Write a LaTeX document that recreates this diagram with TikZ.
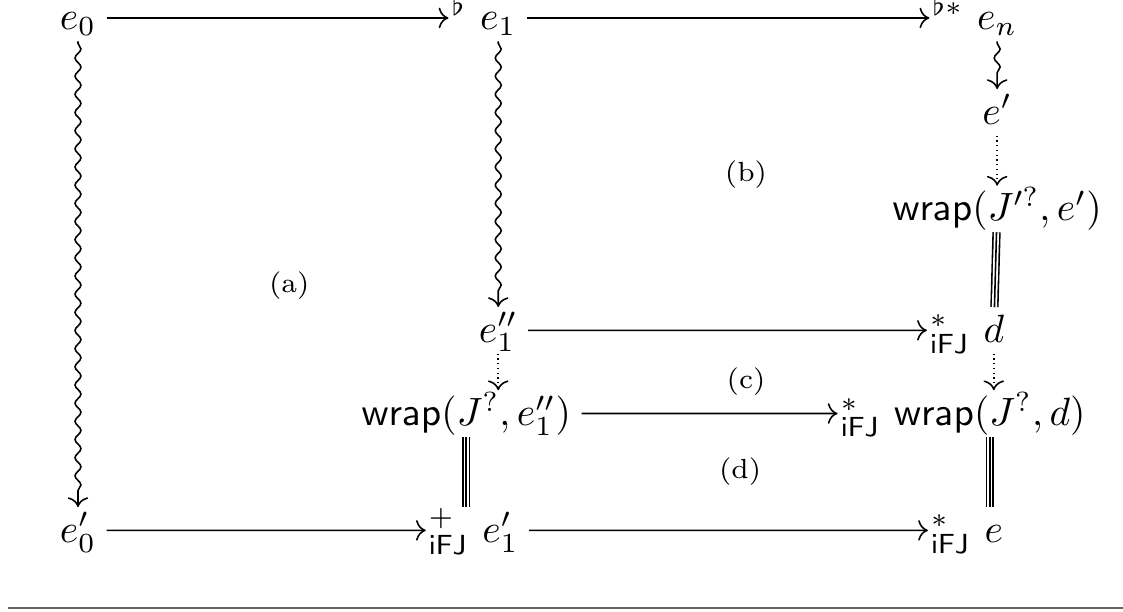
\documentclass[tikz,border=0pt]{standalone}
\usepackage{amsmath,amssymb}
\usepackage{xcolor}
\usepackage{tikz}
\usetikzlibrary{positioning,arrows.meta,calc,decorations.pathmorphing}
\definecolor{rulegray}{RGB}{100,100,100}
\tikzset{
  obj/.style={inner xsep=2.5pt,inner ysep=0.3pt,text height=8.4pt,text depth=2.4pt},
  tiplbl/.style={inner xsep=0.6pt,inner ysep=0.3pt,text height=6pt,text depth=0pt},
  flow/.style={-{Computer Modern Rightarrow},line width=0.4pt},
  squig/.style={flow,decorate,decoration={snake,amplitude=0.75pt,segment length=4.6pt,pre length=0.5pt,post length=2.2pt}},
  dotflow/.style={flow,dash pattern=on 0.3pt off 0.9pt},
  triple/.style={line width=0.4pt,preaction={draw,double,double distance=1.3pt}},
  region/.style={font=\scriptsize},
}

\begin{document}
\begin{tikzpicture}[node distance=5mm]
  \useasboundingbox (-6.94mm,1.6mm) rectangle (93.0mm,-52.8mm);
  \node[obj] (e0) at (0,0) {$e_0$};
  \node[obj,right=37.4mm of e0.center,anchor=center] (e1) {$e_1$};
  \node[obj,right=44.4mm of e1.center,anchor=center] (en) {$e_n$};
  \node[obj,below=8.4mm of en.center,anchor=center] (ep) {$e'$};
  \node[obj,below=8.6mm of ep.center,anchor=center] (wp) {$\mathsf{wrap}(J'^{?},e')$};
  \node[obj,below=10.8mm of wp.center,anchor=center,xshift=-0.3mm] (d) {$d$};
  \node[obj,below=27.8mm of e1.center,anchor=center] (e1pp) {$e_1''$};
  \node[obj,below=7.4mm of e1pp.center,anchor=center,xshift=-2.85mm] (w1) {$\mathsf{wrap}(J^{?},e_1'')$};
  \node[obj,below=17.8mm of e1pp.center,anchor=center,xshift=0.2mm] (e1p) {$e_1'$};
  \node[obj,below=45.6mm of e0.center,anchor=center] (e0p) {$e_0'$};
  \node[obj,below=7.4mm of d.center,anchor=center,xshift=-0.35mm] (wd) {$\mathsf{wrap}(J^{?},d)$};
  \node[obj,below=17.8mm of d.center,anchor=center] (e) {$e$};
  % labels at the arrow tips
  \node[tiplbl,left=0pt of e1] (t1) {${}^{\flat}$};
  \node[tiplbl,left=0pt of en] (t2) {${}^{\flat *}$};
  \node[tiplbl,left=0pt of d] (t3) {${}^{*}_{\mathsf{iFJ}}$};
  \node[tiplbl,left=0pt of wd] (t4) {${}^{*}_{\mathsf{iFJ}}$};
  \node[tiplbl,left=0pt of e1p] (t5) {${}^{+}_{\mathsf{iFJ}}$};
  \node[tiplbl,left=0pt of e] (t6) {${}^{*}_{\mathsf{iFJ}}$};
  % horizontal arrows
  \draw[flow] (e0) -- (t1);
  \draw[flow] (e1) -- (t2);
  \draw[flow] (e1pp) -- (t3);
  \draw[flow] (w1) -- (t4);
  \draw[flow] (e0p) -- (t5);
  \draw[flow] (e1p) -- (t6);
  % vertical arrows
  \draw[squig] (e0) -- (e0p);
  \draw[squig] (e1) -- (e1pp);
  \draw[squig] (en) -- (ep);
  \draw[dotflow] (ep) -- (wp);
  \draw[dotflow] (e1pp) -- (e1pp |- w1.north);
  \draw[dotflow] (d) -- (d |- wd.north);
  \draw[triple] (wp) -- (d);
  \draw[triple] (w1.south) -- (w1.south |- e1p.north);
  \draw[triple] (wd) -- (wd |- e.north);
  % regions
  \node[region,yshift=-1mm] (ra) at ($(e0)!0.5!(e1p)$) {(a)};
  \node[region] (rb) at ($(e1)!0.5!(d)$) {(b)};
  \node[region,yshift=-4.6mm] (rc) at ($(e1pp)!0.5!(d)$) {(c)};
  \node[region,xshift=0.9mm] (rd) at ($(w1)!0.5!(e)$) {(d)};
  \draw[rulegray,line width=0.5pt] (-6.2mm,-52.5mm) -- (93.0mm,-52.5mm);
\end{tikzpicture}
\end{document}
